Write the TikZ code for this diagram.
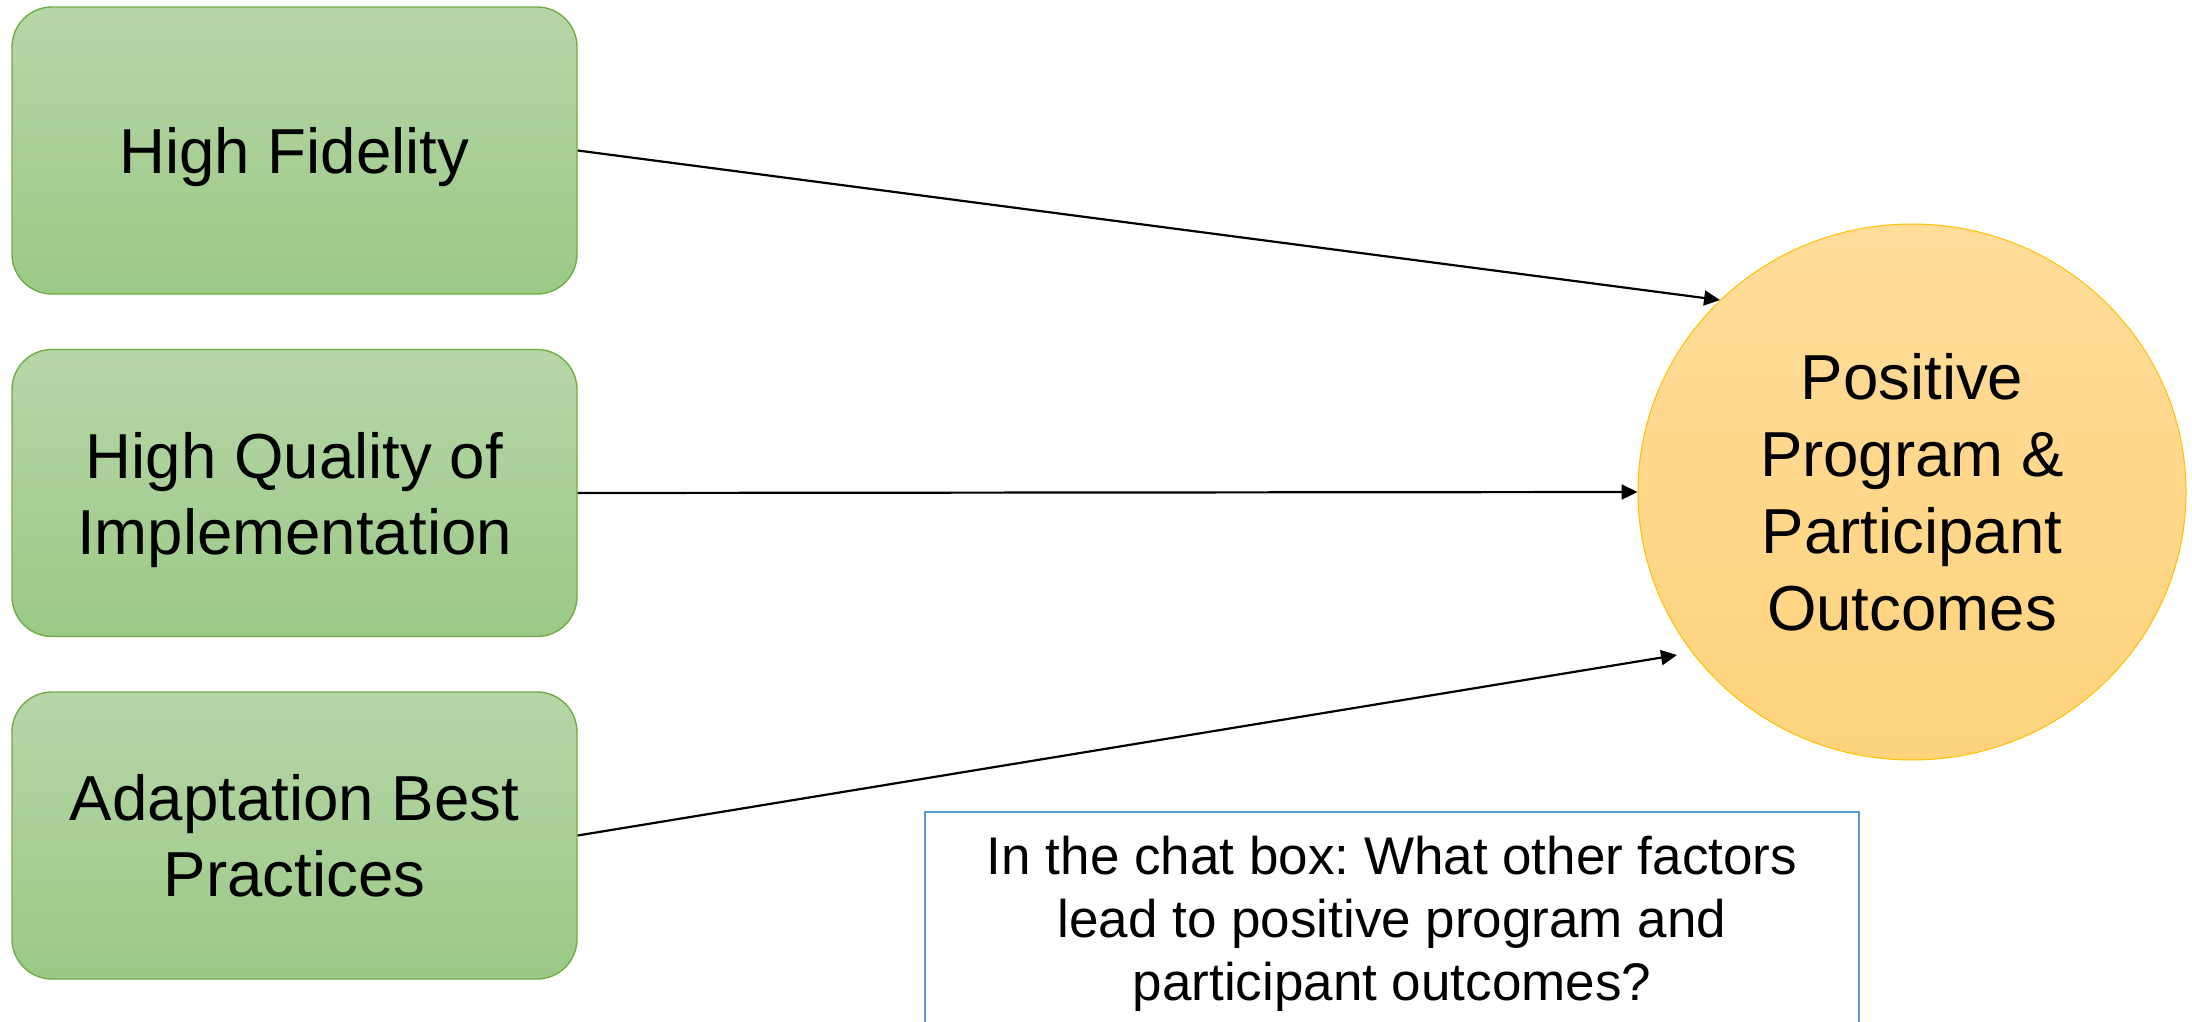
\documentclass[tikz,border=0pt]{standalone}
\usepackage{fontspec}
\setmainfont{Liberation Sans}
\frenchspacing
\usetikzlibrary{shapes.geometric,arrows.meta}

\definecolor{boxtop}{HTML}{B6D6A8}
\definecolor{boxbot}{HTML}{9CC986}
\definecolor{boxline}{HTML}{70AD47}
\definecolor{suntop}{HTML}{FFDC9A}
\definecolor{sunbot}{HTML}{FED37C}
\definecolor{sunline}{HTML}{FFC000}
\definecolor{chatline}{HTML}{5B9BD5}

\begin{document}
\begin{tikzpicture}[x=0.5pt,y=-0.5pt,
		factor/.style={draw=boxline,line width=0.7pt,rounded corners=20pt,top color=boxtop,bottom color=boxbot,
			minimum width=282.5pt,minimum height=143.5pt,text depth=0pt,align=center,font=\fontsize{31.8}{38}\selectfont},
		outcome/.style={ellipse,draw=sunline,line width=0.5pt,top color=suntop,bottom color=sunbot,inner sep=0pt,
			minimum width=274pt,minimum height=268pt,align=center,font=\fontsize{31.8}{38.5}\selectfont},
		chat/.style={draw=chatline,line width=0.8pt,fill=white,minimum width=467pt,inner xsep=0pt,inner ysep=12pt,
			align=center,font=\fontsize{26.5}{31.5}\selectfont},
		link/.style={-{Triangle[length=8pt,width=7.5pt]},line width=1.1pt}]
	\useasboundingbox (0,0) rectangle (2192,1022);
	\clip (0,0) rectangle (2192,1022);
	% three factors on the left
	\node[factor] (fid) at (294.5,150.5) {High Fidelity};
	\node[factor] (qual) at (294.5,493) {High Quality of\\Implementation};
	\node[factor] (adapt) at (294.5,835.5) {Adaptation Best\\Practices};
	% outcome circle
	\node[outcome] (out) at (1912,492) {Positive\\Program \&\\Participant\\Outcomes};
	\coordinate (tip) at (1677,655);
	\draw[link] (fid.east) -- (out.135);
	\draw[link] (qual.east) -- (out.west);
	\draw[link] (adapt.east) -- (tip);
	% question box, runs off the bottom
	\node[chat,anchor=north] (ask) at (1392,811) {In the chat box: What other factors\\lead to positive program and\\participant outcomes?\\[30pt]};
\end{tikzpicture}
\end{document}
